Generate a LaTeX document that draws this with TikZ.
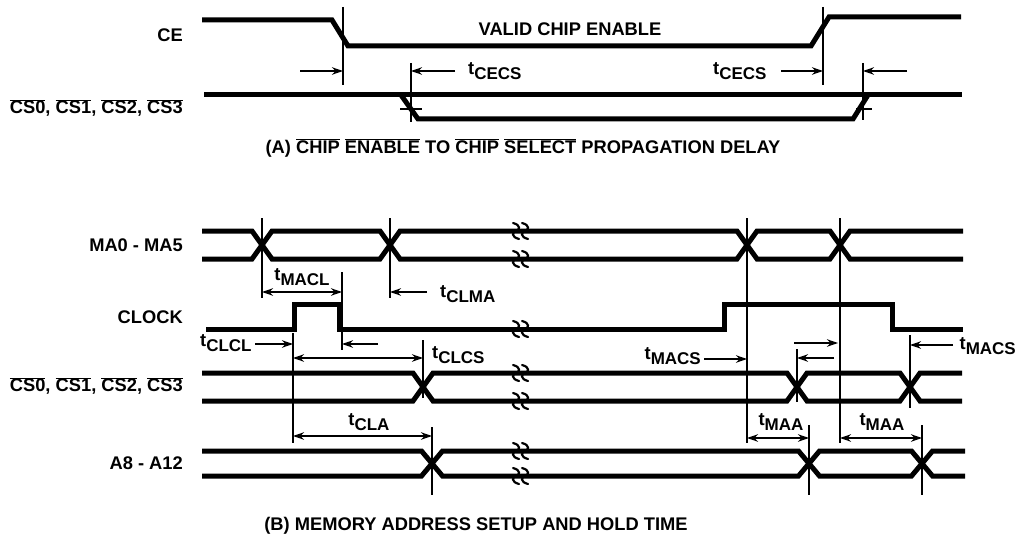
\documentclass[tikz,border=0pt]{standalone}
\usepackage{fontspec}
\setmainfont{Liberation Sans}
\usetikzlibrary{arrows.meta}
\newcommand{\ovl}[1]{\ensuremath{\overline{\mbox{#1}}}}
\newcommand{\tsb}[1]{t\raisebox{-5pt}{\fontsize{17}{17}\selectfont #1}}
\newcommand{\brkmark}[1]{%
  \foreach \bx in {516,525} {%
    \draw[brk] ({\bx-3},{#1-8}) .. controls ({\bx+5},{#1-6}) and ({\bx+4},{#1-1}) .. (\bx,#1)
      .. controls ({\bx-4},{#1+1}) and ({\bx-5},{#1+6}) .. ({\bx+3},{#1+8});
  }%
}
\begin{document}
\begin{tikzpicture}[x=1pt,y=-1pt,
  every node/.style={font=\fontsize{18.3}{20}\selectfont\bfseries, inner sep=0pt},
  sig/.style={line width=5pt, line join=miter},
  thin/.style={line width=1.3pt},
  brk/.style={line width=2.2pt, line cap=round},
  tip/.tip={Stealth[length=11pt,width=7.5pt,inset=3.5pt]},
  dim/.style={line width=1.3pt, -tip},
  ddim/.style={line width=1.3pt, tip-tip}]
\useasboundingbox (0,0) rectangle (1019,540);

% ---------------- (A) ----------------
\node[anchor=east] (lce) at (183,35) {CE};
\node[anchor=east] (lcsa) at (183,108) {\ovl{CS0}, \ovl{CS1}, \ovl{CS2}, \ovl{CS3}};
\node (valid) at (570,29) {VALID CHIP ENABLE};

\draw[sig] (202,20) -- (332,20) -- (348,46) -- (811,46) -- (829,17) -- (961,17);
\draw[sig] (204,95) -- (962,95);
\draw[sig] (401,95) -- (418,119) -- (853,119) -- (868,95);

\coordinate (va1t) at (343,7);  \coordinate (va1b) at (343,85);
\coordinate (va2t) at (411,63); \coordinate (va2b) at (411,122);
\coordinate (va3t) at (823,7);  \coordinate (va3b) at (823,85);
\coordinate (va4t) at (863,63); \coordinate (va4b) at (863,120);
\draw[thin] (va1t) -- (va1b);
\draw[thin] (va2t) -- (va2b);
\draw[thin] (va3t) -- (va3b);
\draw[thin] (va4t) -- (va4b);
\draw[thin] (400,109) -- (422,109);
\draw[thin] (856,109) -- (872,109);

\coordinate (a1s) at (300,71); \coordinate (a1e) at (343,71);
\coordinate (a2s) at (455,71); \coordinate (a2e) at (411,71);
\coordinate (a3s) at (781,71); \coordinate (a3e) at (823,71);
\coordinate (a4s) at (907,71); \coordinate (a4e) at (863,71);
\draw[dim] (a1s) -- (a1e);
\draw[dim] (a2s) -- (a2e);
\draw[dim] (a3s) -- (a3e);
\draw[dim] (a4s) -- (a4e);
\node[anchor=west] (tcecs1) at (468,71) {\tsb{CECS}};
\node[anchor=west] (tcecs2) at (713,71) {\tsb{CECS}};

\node (capa) at (523,148) {(A) \ovl{CHIP} \ovl{ENABLE} TO \ovl{CHIP} \ovl{SELECT} PROPAGATION DELAY};

% ---------------- (B) ----------------
\node[anchor=east] (lma) at (183,245) {MA0 - MA5};
\node[anchor=east] (lclk) at (183,317) {CLOCK};
\node[anchor=east] (lcsb) at (183,386) {\ovl{CS0}, \ovl{CS1}, \ovl{CS2}, \ovl{CS3}};
\node[anchor=east] (la8) at (183,463) {A8 - A12};

% MA0-MA5 bus
\draw[sig] (202,231) -- (252,231) -- (272,259) -- (380,259) -- (400,231) -- (737,231) -- (757,259) -- (830,259) -- (850,231) -- (963,231);
\draw[sig] (202,259) -- (252,259) -- (272,231) -- (380,231) -- (400,259) -- (737,259) -- (757,231) -- (830,231) -- (850,259) -- (963,259);
% CLOCK
\draw[sig] (206,329) -- (294,329) -- (294,304) -- (339,304) -- (339,329) -- (724,329) -- (724,304) -- (892,304) -- (892,329) -- (963,329);
% CS bus
\draw[sig] (202,373) -- (413,373) -- (433,401) -- (787,401) -- (807,373) -- (900,373) -- (920,401) -- (962,401);
\draw[sig] (202,401) -- (413,401) -- (433,373) -- (787,373) -- (807,401) -- (900,401) -- (920,373) -- (962,373);
% A8-A12 bus
\draw[sig] (202,451) -- (421.5,451) -- (442.5,476) -- (798.5,476) -- (819.5,451) -- (911.5,451) -- (932.5,476) -- (965,476);
\draw[sig] (202,476) -- (421.5,476) -- (442.5,451) -- (798.5,451) -- (819.5,476) -- (911.5,476) -- (932.5,451) -- (965,451);

% break marks
\brkmark{231}
\brkmark{259}
\brkmark{329}
\brkmark{373}
\brkmark{401}
\brkmark{451}
\brkmark{476}

% vertical reference lines
\draw[thin] (262,218) -- (262,298);
\draw[thin] (390,218) -- (390,298);
\draw[thin] (747,218) -- (747,443);
\draw[thin] (840,218) -- (840,443);
\draw[thin] (342,272) -- (342,350);
\draw[thin] (293,333) -- (293,443);
\draw[thin] (423,340) -- (423,398);
\draw[thin] (432,427) -- (432,495);
\draw[thin] (797,349) -- (797,402);
\draw[thin] (910,335) -- (910,408);
\draw[thin] (809,425) -- (809,495);
\draw[thin] (922,425) -- (922,495);

% dimension arrows
\draw[ddim] (262,292) -- (342,292);
\node (tmacl) at (302,277) {\tsb{MACL}};
\draw[dim] (427,292) -- (390,292);
\node[anchor=west] (tclma) at (440,294) {\tsb{CLMA}};

\node[anchor=west] (tclcl) at (200,343) {\tsb{CLCL}};
\draw[dim] (255,344) -- (293,344);
\draw[dim] (378,344) -- (342,344);
\draw[ddim] (293,358) -- (423,358);
\node[anchor=west] (tclcs) at (432,355) {\tsb{CLCS}};

\node (tcla) at (369,422) {\tsb{CLA}};
\draw[ddim] (293,436) -- (432,436);

\node[anchor=east] (tmacs1) at (701,356) {\tsb{MACS}};
\draw[dim] (704,359) -- (747,359);
\draw[dim] (794,343) -- (838,343);
\draw[dim] (834,358) -- (797,358);
\draw[dim] (953,345) -- (910,345);
\node[anchor=east] (tmacs2) at (1016,346) {\tsb{MACS}};

\node (tmaa1) at (781,422) {\tsb{MAA}};
\draw[ddim] (747,438) -- (809,438);
\node (tmaa2) at (882,422) {\tsb{MAA}};
\draw[ddim] (840,438) -- (922,438);

\node (capb) at (476,526) {(B) MEMORY ADDRESS SETUP AND HOLD TIME};
\end{tikzpicture}
\end{document}
